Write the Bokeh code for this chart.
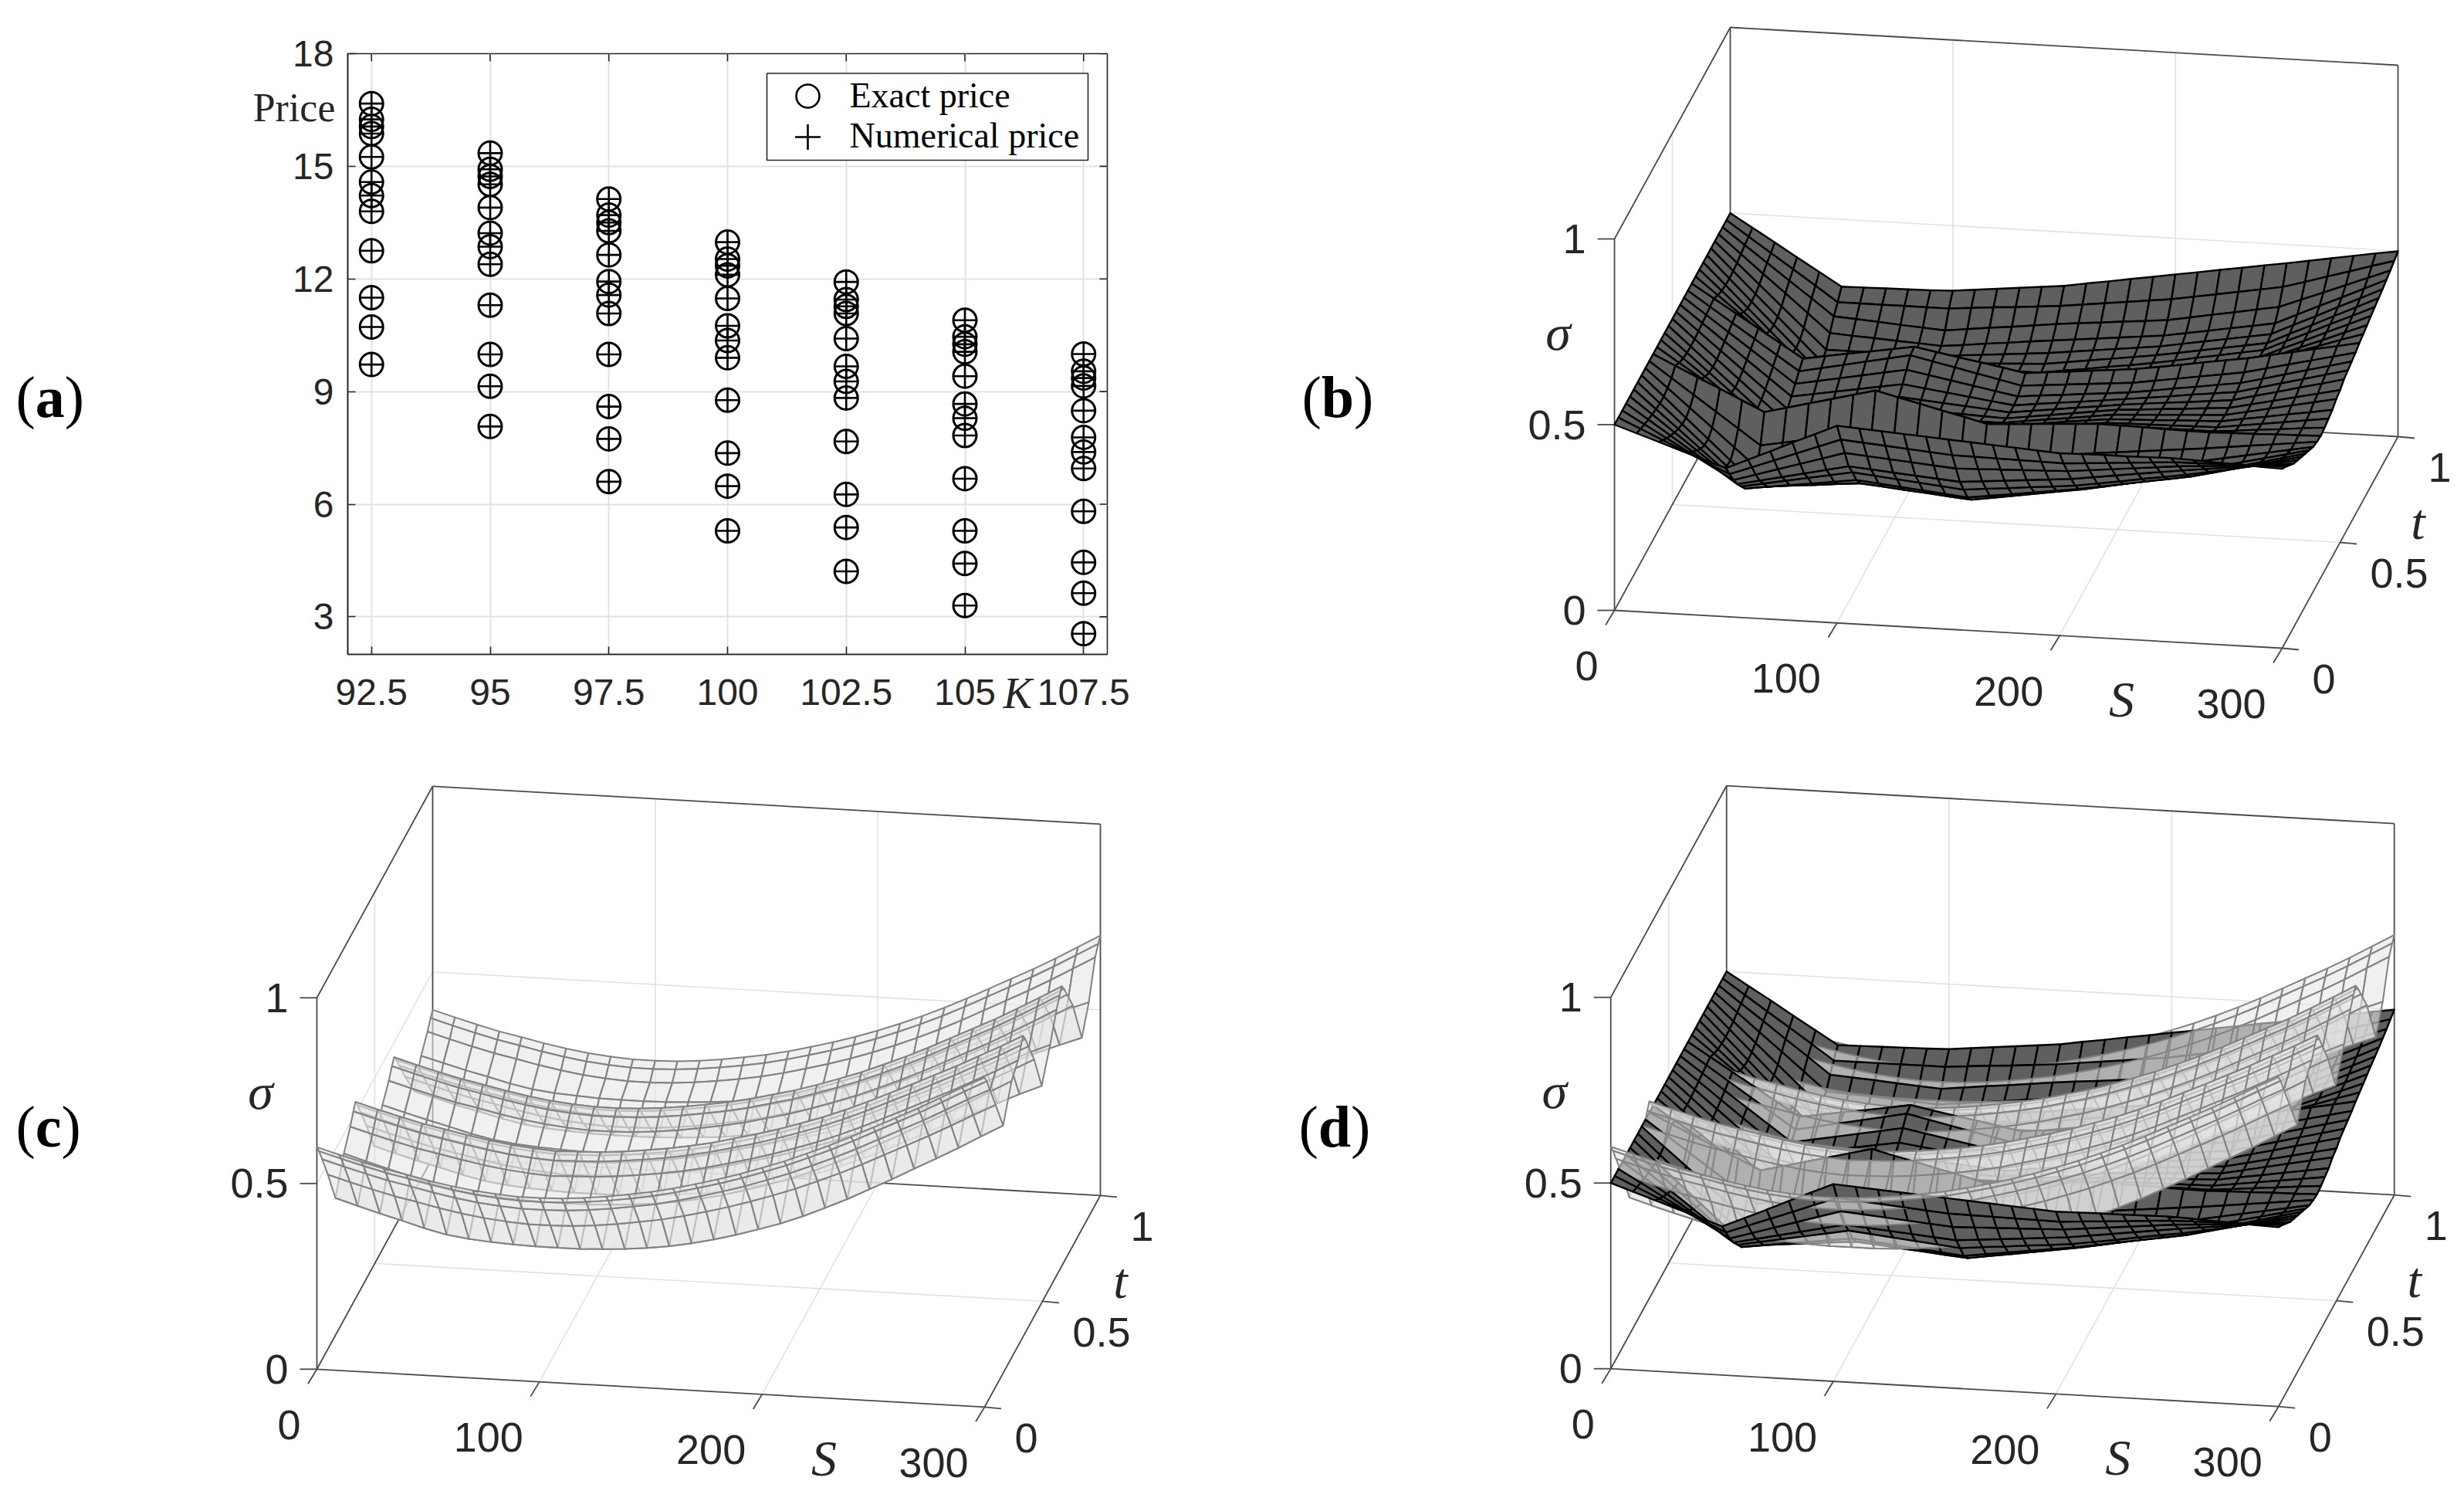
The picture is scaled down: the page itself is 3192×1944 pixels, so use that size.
from bokeh.plotting import figure
from bokeh.layouts import column, row
from bokeh.models import Range1d, FixedTicker, ColumnDataSource
from bokeh.core.properties import value
from bokeh.embed import file_html
from bokeh.resources import INLINE

# ---- panel (a): option prices against strike ----
K_TICKS = [92.5, 95, 97.5, 100, 102.5, 105, 107.5]
PRICE_TICKS = [3, 6, 9, 12, 15, 18]
PRICE_925 = [16.67, 16.25, 16.06, 15.87, 15.25, 14.58, 14.22, 13.80, 12.75, 11.50, 10.72, 9.72]
PRICE_950 = [15.35, 14.92, 14.73, 14.52, 13.90, 13.22, 12.86, 12.39, 11.30, 9.99, 9.14, 8.07]
PRICE_975 = [14.13, 13.70, 13.50, 13.28, 12.64, 11.93, 11.57, 11.08, 9.99, 8.60, 7.74, 6.60]
PRICE_1000 = [12.98, 12.53, 12.35, 12.11, 11.48, 10.75, 10.36, 9.90, 8.77, 7.36, 6.48, 5.29]
PRICE_1025 = [11.92, 11.45, 11.27, 11.08, 10.41, 9.67, 9.27, 8.83, 7.67, 6.26, 5.38, 4.21]
PRICE_1050 = [10.90, 10.46, 10.26, 10.06, 9.41, 8.67, 8.29, 7.83, 6.68, 5.29, 4.42, 3.30]
PRICE_1075 = [10.00, 9.54, 9.36, 9.15, 8.49, 7.78, 7.39, 6.95, 5.81, 4.45, 3.63, 2.55]
PRICES = [PRICE_925, PRICE_950, PRICE_975, PRICE_1000, PRICE_1025, PRICE_1050, PRICE_1075]

# ---- surfaces: sigma in thousandths, rows by t, columns by S ----
S_GRID = [0, 10, 20, 30, 40, 50, 60, 70, 80, 90, 100, 110, 120, 130, 140, 150, 160, 170, 180, 190, 200,
          210, 220, 230, 240, 250, 260, 270, 280, 290, 300]
T_B = [0, .0333, .0667, .1, .1333, .1667, .2, .2333, .2667, .3, .3333, .3667, .4, .4333, .4667, .5, .5333,
       .5667, .6, .6333, .6667, .7, .7333, .7667, .8, .8333, .8667, .9, .9333, .9667, 1]
SIGMA_B = [
 [500, 480,460,440,420,400, 426,452,479,505,531, 527,523,519,515,511, 507,503,499,495,491, 492,493,493,494,495, 493,490,488,485,483],
 [500, 473,446,419,392,365, 387,409,431,453,475, 470,465,460,455,450, 449,448,447,446,445, 449,453,457,461,465, 466,467,468,469,470],
 [500, 466,432,398,364,330, 348,366,384,402,420, 415,410,405,400,395, 397,399,401,403,405, 411,417,423,429,435, 439,443,447,451,455],
 [500, 460,420,380,340,300, 313,326,339,352,365, 360,355,350,345,340, 345,350,355,360,365, 373,381,389,397,405, 412,419,426,433,440],
 [500, 455,410,365,320,275, 286,297,308,319,330, 324,318,312,306,300, 306,311,317,322,328, 337,346,356,365,374, 385,396,408,419,430],
 [500, 450,400,350,300,250, 258,266,274,282,290, 284,278,272,266,260, 268,276,284,292,300, 310,320,330,340,350, 364,378,392,406,420],
 [500, 447,394,341,288,235, 240,246,251,257,262, 257,251,246,240,235, 244,253,262,271,280, 291,302,313,324,335, 350,365,380,395,410],
 [500, 446,392,338,284,230, 235,240,245,250,255, 249,243,237,231,225, 234,244,253,263,272, 284,295,307,318,330, 344,358,372,386,400],
 [500, 450,400,350,300,250, 256,262,268,274,280, 272,264,256,248,240, 249,258,267,276,285, 295,305,315,325,335, 346,357,368,379,390],
 [500, 458,416,374,332,290, 301,312,323,334,345, 333,321,309,297,285, 292,299,306,313,320, 326,332,338,344,350, 357,364,371,378,385],
 [500, 472,444,417,389,361, 376,391,406,421,436, 421,407,392,378,363, 366,370,373,377,380, 379,378,376,375,374, 376,377,379,380,382],
 [500, 461,422,383,344,305, 318,331,344,357,370, 362,354,346,338,330, 336,341,347,352,358, 358,358,358,358,358, 363,369,374,380,385],
 [500, 454,408,362,316,270, 282,294,306,318,330, 326,322,318,314,310, 317,324,331,338,345, 346,347,348,349,350, 358,366,374,382,390],
 [500, 450,400,350,300,250, 260,270,280,290,300, 300,300,300,300,300, 307,314,322,329,336, 338,340,343,345,347, 357,366,376,385,395],
 [500, 448,396,344,292,240, 250,260,270,280,290, 290,290,290,290,290, 298,306,313,321,329, 332,335,339,342,345, 357,369,381,393,405],
 [500, 449,398,347,296,245, 255,265,275,285,295, 293,290,288,285,283, 291,299,307,315,323, 327,332,336,341,345, 358,371,384,397,410],
 [500, 451,402,353,304,255, 265,275,285,295,305, 300,295,290,285,280, 288,295,303,310,318, 324,330,335,341,347, 362,376,391,405,420],
 [500, 454,408,362,316,270, 280,290,300,310,320, 312,304,296,288,280, 287,294,300,307,314, 321,328,336,343,350, 365,380,395,410,425],
 [500, 457,414,371,328,285, 296,307,318,329,340, 329,318,307,296,285, 291,296,302,307,313, 321,330,338,347,355, 370,385,400,415,430],
 [500, 460,420,380,340,300, 312,324,336,348,360, 347,334,321,308,295, 300,305,310,315,320, 329,338,347,356,365, 379,393,407,421,435],
 [500, 463,426,389,352,315, 325,335,344,354,364, 353,342,332,321,310, 316,321,327,332,338, 347,356,366,375,384, 396,407,419,430,442],
 [500, 453,406,359,312,265, 276,287,298,309,320, 308,296,284,272,260, 268,276,284,292,300, 310,320,330,340,350, 369,389,408,428,447],
 [500, 446,392,338,284,230, 241,252,263,274,285, 276,267,258,249,240, 249,257,266,274,283, 293,304,314,325,335, 358,382,405,429,452],
 [500, 442,384,326,268,210, 219,228,237,246,255, 251,247,243,239,235, 244,253,261,270,279, 289,299,310,320,330, 356,381,407,432,458],
 [500, 441,382,323,264,205, 211,217,223,229,235, 235,235,235,235,235, 244,252,261,269,278, 288,299,309,320,330, 357,383,410,436,463],
 [500, 442,384,326,268,210, 213,216,219,222,225, 228,231,234,237,240, 248,256,264,272,280, 290,300,310,320,330, 358,385,413,440,468],
 [500, 445,390,335,280,225, 225,225,225,225,225, 230,235,240,245,250, 257,264,271,278,285, 295,305,315,325,335, 363,390,418,445,473],
 [500, 450,400,351,301,251, 247,244,240,237,233, 239,246,252,259,265, 271,277,283,289,295, 305,315,325,335,345, 372,399,425,452,479],
 [500, 455,411,366,322,277, 273,269,264,260,256, 263,270,276,283,290, 296,301,307,312,318, 328,339,349,360,370, 393,416,439,462,485],
 [500, 459,418,378,337,296, 296,296,296,296,296, 301,306,310,315,320, 327,334,341,348,355, 365,375,385,395,405, 422,440,457,475,492],
 [500, 464,428,391,355,319, 320,321,322,323,325, 331,337,343,349,355, 365,374,384,393,403, 412,422,431,441,450, 460,470,480,490,499],
]
T_C = [0, .018, .045, .095, .16, .233, .288, .315, .333, .351, .378, .428, .493, .566, .621, .648, .667,
       .685, .712, .762, .84, .90, .955, .982, 1.0]
SIGMA_C = [
 [598,581,565,550,538,525,514,505,499,495,495,497,502,509,518,528,541,556,572,590,610,631,655,680,707,736,765,794,825,857,887],
 [577,560,544,529,517,504,493,484,478,474,474,476,481,488,497,507,520,535,551,569,589,610,634,659,686,715,744,773,804,836,867],
 [540,523,507,492,480,467,456,447,441,437,437,439,444,451,460,470,483,498,514,532,552,573,597,622,649,678,707,736,767,799,829],
 [470,453,437,422,410,397,386,377,371,367,367,369,374,381,390,400,413,428,444,462,482,503,527,552,579,608,637,666,697,729,759],
 [370,352,335,319,302,288,280,275,272,270,270,270,273,277,283,291,302,316,332,350,369,392,418,445,475,505,537,568,600,634,667],
 [448,430,413,397,380,366,358,353,350,348,348,348,351,355,361,369,380,394,410,428,447,470,496,523,553,583,615,646,678,712,745],
 [489,472,456,441,429,417,406,397,391,387,389,391,396,403,411,421,433,448,463,480,499,519,542,567,594,621,649,677,707,737,769],
 [515,498,482,467,455,443,432,423,417,413,415,417,422,429,437,447,459,474,489,506,525,545,568,593,620,647,675,703,733,763,795],
 [530,513,497,482,470,458,447,438,432,428,430,432,437,444,452,462,474,489,504,521,540,560,583,608,635,662,690,718,748,778,810],
 [511,494,478,463,451,439,428,419,413,409,411,413,418,425,433,443,455,470,485,502,521,541,564,589,616,643,671,699,729,759,791],
 [476,459,443,428,416,404,393,384,378,374,376,378,383,390,398,408,420,435,450,467,486,506,529,554,581,608,636,664,694,724,756],
 [412,395,379,364,352,340,329,320,314,310,312,314,319,326,334,344,356,371,386,403,422,442,465,490,517,544,572,600,630,660,692],
 [320,303,287,272,256,243,235,230,227,225,225,225,228,232,238,245,256,268,283,298,315,337,362,388,417,445,474,502,530,558,584],
 [389,372,356,341,325,312,304,299,296,294,294,294,297,301,307,314,325,337,352,367,384,406,431,457,486,514,543,571,599,627,653],
 [423,406,390,375,363,350,339,330,324,320,320,322,327,334,343,353,365,380,395,413,433,454,478,503,530,559,588,617,649,682,716],
 [447,430,414,399,387,374,363,354,348,344,344,346,351,358,367,377,389,404,419,437,457,478,502,527,554,583,612,641,673,706,740],
 [460,443,427,412,400,387,376,367,361,357,357,359,364,371,380,390,402,417,432,450,470,491,515,540,567,596,625,654,686,719,753],
 [443,426,410,395,383,370,359,350,344,340,340,342,347,354,363,373,385,400,415,433,453,474,498,523,550,579,608,637,669,702,736],
 [412,395,379,364,352,339,328,319,313,309,309,311,316,323,332,342,354,369,384,402,422,443,467,492,519,548,577,606,638,671,705],
 [354,337,321,306,294,281,270,261,255,251,251,253,258,265,274,284,296,311,326,344,364,385,409,434,461,490,519,548,580,613,647],
 [270,254,238,224,209,197,190,186,183,182,182,183,186,190,195,203,212,224,238,252,270,289,313,337,364,390,417,443,469,493,516],
 [331,315,299,285,270,258,251,247,244,243,243,244,247,251,256,264,273,285,299,313,331,350,374,398,425,451,478,504,530,554,577],
 [365,348,332,317,305,292,281,272,266,262,262,264,269,276,285,295,308,323,339,357,377,399,423,449,477,507,537,567,599,633,667],
 [386,369,353,338,326,313,302,293,287,283,283,285,290,297,306,316,329,344,360,378,398,420,444,470,498,528,558,588,620,654,688],
 [398,381,365,350,338,325,314,305,299,295,295,297,302,309,318,328,341,356,372,390,410,432,456,482,510,540,570,600,632,666,700],
]
S_TICKS = [0, 100, 200, 300]
T_TICKS = [0, 0.5, 1]
SIGMA_TICKS = [0, 0.5, 1]

SANS = value("Liberation Sans")
SERIF = value("Liberation Serif")
INK = "#262626"
BOX = "#4a4a4a"
GRID = "#e2e2e2"

Q_W = [1604, 1580]
Q_H = [968, 968]


def bracket_label(p, x0, yc, letter, to_x=lambda v: v, to_y=lambda v: v):
    adv = {"a": .5, "b": .556, "c": .444, "d": .556}[letter]
    fs = 76
    for txt, x, st in (("(", x0, "normal"), (letter, x0 + .333 * fs, "bold"), (")", x0 + (.333 + adv) * fs, "normal")):
        p.text([to_x(x)], [to_y(yc)], text=[txt], text_font=SERIF, text_font_size=value(f"{fs}px"), text_font_style=st,
               text_color="black", text_align="left", text_baseline="middle", level="overlay")


def make_3d(page_x, page_y, w, h, origin, surfaces, letter, letter_x, letter_y):
    p = figure(width=w, height=h, x_range=Range1d(page_x, page_x + w), y_range=Range1d(page_y + h, page_y),
               output_backend="svg", toolbar_location=None, x_axis_location=None, y_axis_location=None,
               min_border=0, outline_line_color=None, background_fill_color="white", border_fill_color="white",
               frame_align=False)
    p.xgrid.visible = False
    p.ygrid.visible = False

    def pr(S, t, z):
        return (origin[0] + 865 * S / 300 + 150 * t, origin[1] + 49 * S / 300 - 274 * t - 481 * z)

    def lines(segs, color, width):
        xs, ys = [], []
        for a, b in segs:
            pa_, pb_ = pr(*a), pr(*b)
            xs.append([pa_[0], pb_[0]])
            ys.append([pa_[1], pb_[1]])
        p.multi_line(xs, ys, line_color=color, line_width=width)

    inner_S = [s for s in S_TICKS if 0 < s < 300]
    inner_T = [t for t in T_TICKS if 0 < t < 1]
    inner_Z = [z for z in SIGMA_TICKS if 0 < z < 1]
    grid = []
    for s in inner_S:
        grid += [((s, 1, 0), (s, 1, 1)), ((s, 0, 0), (s, 1, 0))]
    for t in inner_T:
        grid += [((0, t, 0), (0, t, 1)), ((0, t, 0), (300, t, 0))]
    for z in inner_Z:
        grid += [((0, 1, z), (300, 1, z)), ((0, 0, z), (0, 1, z))]
    lines(grid, GRID, 1.6)
    lines([((0, 0, 1), (0, 1, 1)), ((0, 1, 1), (300, 1, 1)), ((300, 1, 1), (300, 1, 0)), ((0, 1, 1), (0, 1, 0)),
           ((0, 1, 0), (300, 1, 0)), ((0, 0, 0), (0, 0, 1)), ((0, 0, 0), (0, 1, 0)), ((0, 0, 0), (300, 0, 0)),
           ((300, 0, 0), (300, 1, 0))], BOX, 1.8)

    # tick marks
    xs, ys = [], []
    for s in S_TICKS:
        a = pr(s, 0, 0)
        xs.append([a[0], a[0] - 11.5]); ys.append([a[1], a[1] + 19])
    for t in T_TICKS:
        a = pr(300, t, 0)
        xs.append([a[0], a[0] + 21.5]); ys.append([a[1], a[1] + 2])
    for z in SIGMA_TICKS:
        a = pr(0, 0, z)
        xs.append([a[0], a[0] - 22]); ys.append([a[1], a[1]])
    p.multi_line(xs, ys, line_color=BOX, line_width=1.8)

    # surface quads, painted from far (large t, small S) to near
    quads = []
    for table, ts, fc, fa, lc, la, lw in surfaces:
        for i in range(len(ts) - 1):
            for j in range(len(S_GRID) - 1):
                idx = [(i, j), (i, j + 1), (i + 1, j + 1), (i + 1, j)]
                pts = [pr(S_GRID[c], ts[r], table[r][c] / 1000) for r, c in idx]
                key = (-(ts[i] + ts[i + 1]) / 2, S_GRID[j])
                quads.append((key, [q[0] for q in pts], [q[1] for q in pts], fc, fa, lc, la, lw))
    quads.sort(key=lambda q: q[0])
    src = ColumnDataSource(dict(xs=[q[1] for q in quads], ys=[q[2] for q in quads], fc=[q[3] for q in quads],
                                fa=[q[4] for q in quads], lc=[q[5] for q in quads], la=[q[6] for q in quads],
                                lw=[q[7] for q in quads]))
    p.patches("xs", "ys", source=src, fill_color="fc", fill_alpha="fa", line_color="lc", line_alpha="la",
              line_width="lw", line_join="round")

    # tick labels
    tick_font = value("54px")
    for s in S_TICKS:
        a = pr(s, 0, 0)
        p.text([a[0] - 21], [a[1] + 72], text=[str(s)], text_font=SANS, text_font_size=tick_font, text_color=INK,
               text_align="right", text_baseline="middle")
    for t in T_TICKS:
        a = pr(300, t, 0)
        p.text([a[0] + 39], [a[1] + 40], text=[f"{t:g}"], text_font=SANS, text_font_size=tick_font, text_color=INK,
               text_align="left", text_baseline="middle")
    for z in SIGMA_TICKS:
        a = pr(0, 0, z)
        p.text([a[0] - 37], [a[1]], text=[f"{z:g}"], text_font=SANS, text_font_size=tick_font, text_color=INK,
               text_align="right", text_baseline="middle")
    for txt, dx, dy in (("σ", -73, -360), ("t", 1041, -115), ("S", 657, 115)):
        p.text([origin[0] + dx], [origin[1] + dy], text=[txt], text_font=SERIF, text_font_size=value("66px"),
               text_font_style="italic", text_color=INK, text_align="center", text_baseline="middle")
    bracket_label(p, letter_x, letter_y, letter)
    return p


# ---- panel (a) ----
FRAME_L, FRAME_R, FRAME_T, FRAME_B = 450, 1434, 69, 847
pa = figure(width=Q_W[0], height=Q_H[0], x_range=Range1d(92, 108), y_range=Range1d(2, 18), output_backend="svg",
            toolbar_location=None, min_border_left=FRAME_L, min_border_right=Q_W[0] - FRAME_R,
            min_border_top=FRAME_T, min_border_bottom=Q_H[0] - FRAME_B,
            outline_line_color=INK, outline_line_width=1.6, frame_align=False)


def xd(px):
    return 92 + (px - FRAME_L) / (FRAME_R - FRAME_L) * 16


def yd(py):
    return 18 - (py - FRAME_T) / (FRAME_B - FRAME_T) * 16


pa.xaxis.ticker = FixedTicker(ticks=K_TICKS)
pa.yaxis.ticker = FixedTicker(ticks=PRICE_TICKS)
pa.xaxis.major_label_overrides = {k: f"{k:g}" for k in K_TICKS}
pa.yaxis.major_label_overrides = {k: f"{k:g}" for k in PRICE_TICKS}
for ax, st in ((pa.xaxis, 32), (pa.yaxis, 18)):
    ax.major_label_text_font = "Liberation Sans"
    ax.major_label_text_font_size = "48px"
    ax.major_label_text_color = INK
    ax.major_label_standoff = st
    ax.axis_line_color = INK
    ax.axis_line_width = 1.6
    ax.major_tick_line_color = INK
    ax.major_tick_line_width = 1.6
    ax.major_tick_in = 10
    ax.major_tick_out = 0
    ax.minor_tick_line_color = None
pa.xgrid.ticker = FixedTicker(ticks=K_TICKS)
pa.ygrid.ticker = FixedTicker(ticks=PRICE_TICKS)
pa.xgrid.grid_line_color = GRID
pa.ygrid.grid_line_color = GRID
pa.xgrid.grid_line_width = 2
pa.ygrid.grid_line_width = 2

# mirrored ticks on the top and right of the box
tx = 10 / (FRAME_R - FRAME_L) * 16
ty = 10 / (FRAME_B - FRAME_T) * 16
pa.segment(K_TICKS, [18] * len(K_TICKS), K_TICKS, [18 - ty] * len(K_TICKS), line_color=INK, line_width=1.6)
pa.segment([108] * len(PRICE_TICKS), PRICE_TICKS, [108 - tx] * len(PRICE_TICKS), PRICE_TICKS, line_color=INK, line_width=1.6)

kx, ky = [], []
for k, vals in zip(K_TICKS, PRICES):
    kx += [k] * len(vals)
    ky += vals
pa.scatter(kx, ky, marker="circle", size=30, fill_color=None, line_color="black", line_width=3)
pa.scatter(kx, ky, marker="cross", size=31, line_color="black", line_width=2.6)

# legend
pa.quad(left=[xd(993)], right=[xd(1409)], top=[yd(94.5)], bottom=[yd(207)], fill_color="white", line_color=INK,
        line_width=1.6)
pa.scatter([xd(1046)], [yd(124)], marker="circle", size=30, fill_color=None, line_color="black", line_width=2.6)
pa.scatter([xd(1046)], [yd(177)], marker="cross", size=33, line_color="black", line_width=2.6)
for txt, y, sz in (("Exact price", 122.5, "46px"), ("Numerical price", 175, "46px")):
    pa.text([xd(1100)], [yd(y)], text=[txt], text_font=SERIF, text_font_size=value(sz), text_color="black",
            text_align="left", text_baseline="middle")

# texts outside the frame
for txt, px, py, st, sz, al in (("Price", 434, 138.6, "normal", "52px", "right"),
                                ("K", 1318, 897, "italic", "56px", "center")):
    pa.text([xd(px)], [yd(py)], text=[txt], text_font=SERIF, text_font_size=value(sz), text_font_style=st,
            text_color=INK, text_align=al, text_baseline="middle", level="overlay")
bracket_label(pa, 20, 513, "a", xd, yd)

DARK = (SIGMA_B, T_B, "#5f5f5f", 1.0, "#000000", 1.0, 2.4)
LIGHT = (SIGMA_C, T_C, "#e6e6e6", 0.6, "#828282", 1.0, 2.0)

pb = make_3d(Q_W[0], 0, Q_W[1], Q_H[0], (2091, 790), [DARK], "b", 1686, 513)
pc = make_3d(0, Q_H[0], Q_W[0], Q_H[1], (410, 1772.8), [LIGHT], "c", 20, 1458)
pd_ = make_3d(Q_W[0], Q_H[0], Q_W[1], Q_H[1], (2086.2, 1772.2), [DARK, LIGHT], "d", 1682, 1458)

layout = column(row(pa, pb, spacing=0), row(pc, pd_, spacing=0), spacing=0)
open("out.html", "w").write(file_html(layout, INLINE))
